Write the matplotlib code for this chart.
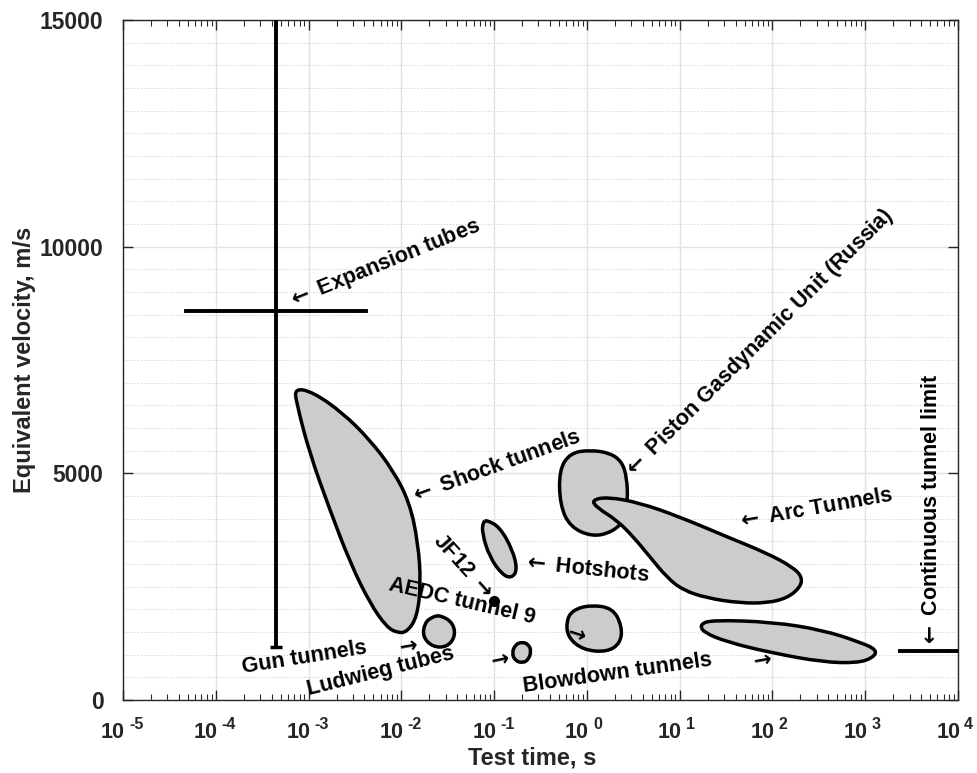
import numpy as np
import matplotlib
matplotlib.use("Agg")
import matplotlib.pyplot as plt
from matplotlib.path import Path
from matplotlib.patches import PathPatch
from matplotlib.ticker import LogLocator, MultipleLocator, NullFormatter

plt.rcParams.update(
    {
        "font.family": ["Liberation Sans", "DejaVu Sans"],
        "font.weight": "bold",
        "mathtext.fontset": "dejavusans",
        "axes.linewidth": 1.0,
        "axes.edgecolor": "#262626",
        "xtick.color": "#262626",
        "ytick.color": "#262626",
    }
)

# test-time / velocity regions, outlines
# x values are log10(test time [s]), y values are velocity [m/s]
shock_lx = [-3.15, -2.95, -2.63, -2.34, -2.09, -1.91, -1.82, -1.79, -1.83, -1.94,
            -2.04, -2.16, -2.34, -2.55, -2.77, -2.99, -3.13]
shock_v = [6880, 6790, 6330, 5740, 5070, 4350, 3460, 2580, 1830, 1500,
           1480, 1610, 2140, 3020, 4190, 5450, 6550]

piston_lx = [0.03, 0.25, 0.38, 0.43, 0.44, 0.40, 0.27, 0.06, -0.18, -0.29, -0.30, -0.18]
piston_v = [5515, 5450, 5250, 4900, 4400, 3950, 3706, 3600, 3816, 4300, 5074, 5449]

arc_lx = [0.05, 0.22, 0.57, 1.00, 1.51, 1.94, 2.22, 2.32, 2.30, 2.16, 1.94, 1.65,
          1.29, 1.03, 0.86, 0.68, 0.50, 0.32, 0.11]
arc_v = [4410, 4480, 4350, 4040, 3600, 3240, 2930, 2710, 2490, 2250, 2140, 2140,
         2250, 2430, 2710, 3155, 3600, 3970, 4240]

hot_lx = [-1.08, -0.94, -0.80, -0.75, -0.81, -0.91, -1.05, -1.13, -1.12]
hot_v = [3970, 3816, 3309, 2868, 2691, 2758, 3155, 3684, 3927]

gun_lx = [-1.58, -1.44, -1.42, -1.51, -1.66, -1.77, -1.75, -1.67]
gun_v = [1875, 1699, 1390, 1169, 1169, 1390, 1699, 1831]

ludwieg_lx = [-0.70, -0.63, -0.60, -0.63, -0.69, -0.77, -0.81, -0.77]
ludwieg_v = [1280, 1230, 1080, 890, 820, 860, 1030, 1230]

blow_lx = [0.03, 0.28, 0.38, 0.36, 0.22, -0.04, -0.21, -0.22, -0.15]
blow_v = [2096, 2030, 1610, 1257, 1059, 1103, 1390, 1765, 1985]

cont_lx = [1.22, 1.36, 2.00, 2.54, 2.94, 3.13, 3.08, 2.91, 2.54, 2.00, 1.51, 1.25]
cont_v = [1677, 1765, 1721, 1544, 1279, 1103, 927, 816, 838, 1037, 1279, 1500]

# expansion tubes cross
exp_t = 4.5e-4
exp_vmin, exp_vmax = 1170, 15000
exp_v = 8580
exp_tmin, exp_tmax = 4.8e-5, 4.2e-3

# continuous tunnel limit
limit_t = [2360, 1e4]
limit_v = [1080, 1080]

# JF12 point
jf12_t, jf12_v = 0.1, 2184

decades = list(range(-5, 5))
yticks = [0, 5000, 10000, 15000]

LA = r"$\leftarrow$"
RA = r"$\rightarrow$"


def blob(ax, lx, v):
    # smooth closed outline (quadratic b-spline through midpoints, in log-x)
    pts = np.column_stack([lx, v]).astype(float)
    mids = (pts + np.roll(pts, -1, axis=0)) / 2
    verts = [mids[-1]]
    codes = [Path.MOVETO]
    for i in range(len(pts)):
        verts += [pts[i], mids[i]]
        codes += [Path.CURVE3, Path.CURVE3]
    verts = np.array(verts)
    verts[:, 0] = 10 ** verts[:, 0]
    patch = PathPatch(Path(verts, codes), facecolor="#cccccc", edgecolor="black",
                      lw=2.5, joinstyle="round", zorder=3)
    ax.add_patch(patch)


fig = plt.figure(figsize=(9.78, 7.73), dpi=100)
ax = fig.add_axes([0.1258, 0.0944, 0.8538, 0.8797])
ax.set_xscale("log")
ax.set_xlim(1e-5, 1e4)
ax.set_ylim(0, 15000)

# grid: solid at decades / 5000, dotted every 500 m/s
ax.xaxis.set_major_locator(LogLocator(base=10, numticks=20))
ax.xaxis.set_minor_locator(LogLocator(base=10, subs=np.arange(2, 10), numticks=20))
ax.xaxis.set_minor_formatter(NullFormatter())
ax.xaxis.set_major_formatter(NullFormatter())
ax.yaxis.set_minor_locator(MultipleLocator(500))
ax.set_yticks(yticks)
ax.set_yticklabels([str(t) for t in yticks], fontweight="bold")
ax.grid(True, which="major", color="#e3e3e3", lw=1.0, ls="-", zorder=0)
ax.yaxis.grid(True, which="minor", color="#c9c9c9", lw=0.7, ls=(0, (1, 2)), zorder=0)
ax.set_axisbelow(True)
ax.tick_params(which="both", direction="in", top=True, right=True)
ax.tick_params(which="major", length=7, width=1)
ax.tick_params(axis="x", which="minor", length=4, width=0.8)
ax.tick_params(axis="y", which="minor", length=0)
ax.tick_params(axis="y", which="major", labelsize=16.5, pad=14)

# MATLAB-like 10^n tick labels
for d in decades:
    ax.annotate("10", xy=(10.0 ** d, 0), xycoords=("data", "axes fraction"),
                xytext=(1.5, -27.4), textcoords="offset points", ha="right",
                va="baseline", fontsize=15.5, fontweight="bold", color="#262626")
    ax.annotate(str(d), xy=(10.0 ** d, 0), xycoords=("data", "axes fraction"),
                xytext=(4.3, -20.5), textcoords="offset points", ha="left",
                va="baseline", fontsize=11.5, fontweight="bold", color="#262626")

fig.text(532 / 978, 1 - 758 / 773, "Test time, s", fontsize=17, fontweight="bold",
         ha="center", va="center", color="#262626")
fig.text(25 / 978, 1 - 360 / 773, "Equivalent velocity, m/s", fontsize=17,
         fontweight="bold", ha="center", va="center", rotation=90, color="#262626")

# regions
blob(ax, shock_lx, shock_v)
blob(ax, piston_lx, piston_v)
blob(ax, arc_lx, arc_v)
blob(ax, hot_lx, hot_v)
blob(ax, gun_lx, gun_v)
blob(ax, ludwieg_lx, ludwieg_v)
blob(ax, blow_lx, blow_v)
blob(ax, cont_lx, cont_v)

# expansion tubes
ax.plot([exp_t, exp_t], [exp_vmin, exp_vmax], color="black", lw=2.8, zorder=4)
ax.plot([exp_t], [exp_vmin], marker="_", ms=9, mew=2.5, color="black", zorder=4)
ax.plot([exp_tmin, exp_tmax], [exp_v, exp_v], color="black", lw=2.8, zorder=4)

ax.plot(limit_t, limit_v, color="black", lw=2.8, zorder=4)
ax.plot([jf12_t], [jf12_v], "o", color="black", ms=7, zorder=5)

fs = 15.5
kw = dict(fontsize=fs, fontweight="bold", rotation_mode="anchor", zorder=6)
ax.text(6.1e-4, 8780, LA + " Expansion tubes", rotation=22, ha="left", va="center", **kw)
ax.text(1.24e-2, 4456, LA + " Shock tunnels", rotation=20, ha="left", va="center", **kw)
ax.text(2.7, 4964, LA + " Piston Gasdynamic Unit (Russia)", rotation=45, ha="left",
        va="center", **kw)
ax.text(41, 3905, LA + " Arc Tunnels", rotation=10, ha="left", va="center", **kw)
ax.text(0.204, 3022, LA + " Hotshots", rotation=-6, ha="left", va="center", **kw)
ax.text(0.088, 2316, "JF12 " + RA, rotation=-48, ha="right", va="center", **kw)
ax.text(0.045, 2184, "AEDC tunnel 9", rotation=-13, ha="center", va="center", **kw)
ax.text(0.743, 1478, RA, rotation=-18, ha="center", va="center", **kw)
ax.text(9.1e-4, 927, "Gun tunnels", rotation=9, ha="center", va="center", **kw)
ax.text(0.01148, 1191, RA, rotation=10, ha="center", va="center", **kw)
ax.text(6.0e-3, 618, "Ludwieg tubes", rotation=14, ha="center", va="center", **kw)
ax.text(0.110, 882, RA, rotation=12, ha="center", va="center", **kw)
ax.text(2.16, 596, "Blowdown tunnels", rotation=8, ha="center", va="center", **kw)
ax.text(75, 882, RA, rotation=10, ha="center", va="center", **kw)
ax.text(5224, 1147, LA + " Continuous tunnel limit", rotation=90, ha="left",
        va="center", **kw)

fig.savefig("out.png", dpi=100)
